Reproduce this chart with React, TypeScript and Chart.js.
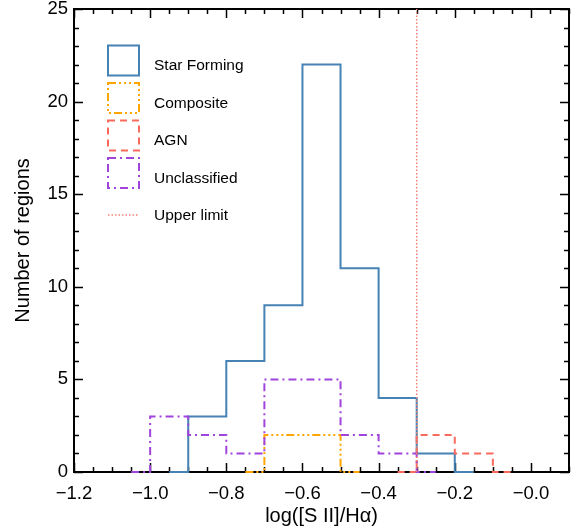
import { useEffect, useRef } from 'react';
import { Chart, registerables } from 'chart.js';

Chart.register(...registerables);

// Histogram bins of log([S II]/Hα), width 0.1
const binEdges = [-1.0, -0.9, -0.8, -0.7, -0.6, -0.5, -0.4, -0.3, -0.2, -0.1];
const starForming = [0, 3, 6, 9, 22, 11, 4, 1, 0];
const composite = [0, 0, 0, 2, 2, 0, 0, 0, 0];
const agn = [0, 0, 0, 0, 0, 0, 0, 2, 1];
const unclassified = [3, 2, 1, 5, 5, 2, 1, 0, 0];
const upperLimit = -0.3;

const xTickValues = [-1.2, -1.0, -0.8, -0.6, -0.4, -0.2, 0.0];
const xTickLabels = ['\u22121.2', '\u22121.0', '\u22120.8', '\u22120.6', '\u22120.4', '\u22120.2', '\u22120.0'];
const yTickValues = [0, 5, 10, 15, 20, 25];
const yTickLabels = ['0', '5', '10', '15', '20', '25'];

const X_MIN = -1.2;
const X_MAX = 0.1;
const Y_MIN = 0;
const Y_MAX = 25;
const HALF_BIN = 0.05;

const FONT = '"Liberation Sans", Arial, Helvetica, sans-serif';

const C_SF = '#4682B4';
const C_COMP = '#FFA500';
const C_AGN = '#FA6A5C';
const C_UNC = '#A044DC';
const C_LIMIT = '#F47F72';

const DASH_COMP = [8, 3, 2, 3, 2, 3, 2, 3];
const DASH_AGN = [7, 5];
const DASH_UNC = [8, 4, 2, 4];
const DASH_LIMIT = [1.5, 2];

// Step outline of a histogram, with half-bin zero tails at each end
function outline(counts: number[]) {
  const first = counts.findIndex((c) => c > 0);
  const last = counts.length - 1 - [...counts].reverse().findIndex((c) => c > 0);
  const pts: { x: number; y: number }[] = [
    { x: binEdges[first] - HALF_BIN, y: 0 },
    { x: binEdges[first], y: 0 },
  ];
  for (let i = first; i <= last; i++) {
    pts.push({ x: binEdges[i], y: counts[i] }, { x: binEdges[i + 1], y: counts[i] });
  }
  pts.push({ x: binEdges[last + 1], y: 0 }, { x: binEdges[last + 1] + HALF_BIN, y: 0 });
  return pts;
}

const legendItems = [
  { label: 'Star Forming', color: C_SF, dash: [] as number[], kind: 'box' },
  { label: 'Composite', color: C_COMP, dash: DASH_COMP, kind: 'box' },
  { label: 'AGN', color: C_AGN, dash: DASH_AGN, kind: 'box' },
  { label: 'Unclassified', color: C_UNC, dash: DASH_UNC, kind: 'box' },
  { label: 'Upper limit', color: C_LIMIT, dash: DASH_LIMIT, kind: 'line' },
];

// Box frame with inward major/minor ticks on all four sides
const framePlugin = {
  id: 'frame',
  beforeDatasetsDraw(chart: any) {
    const { ctx, chartArea: a, scales } = chart;
    const xs = scales.x;
    const ys = scales.y;
    ctx.save();
    ctx.strokeStyle = '#000';
    ctx.lineWidth = 1.5;
    ctx.beginPath();
    for (let k = 0; k <= 26; k++) {
      const v = X_MIN + k * 0.05;
      if (v > X_MAX + 1e-9) break;
      const px = Math.round(xs.getPixelForValue(v)) + 0.5;
      const major = k % 4 === 0;
      const len = major ? 9 : 5;
      ctx.moveTo(px, a.bottom);
      ctx.lineTo(px, a.bottom - len);
      ctx.moveTo(px, a.top);
      ctx.lineTo(px, a.top + len);
    }
    for (let v = Y_MIN; v <= Y_MAX; v++) {
      const py = Math.round(ys.getPixelForValue(v)) + 0.5;
      const major = v % 5 === 0;
      const len = major ? 9 : 5;
      ctx.moveTo(a.left, py);
      ctx.lineTo(a.left + len, py);
      ctx.moveTo(a.right, py);
      ctx.lineTo(a.right - len, py);
    }
    ctx.stroke();
    ctx.lineWidth = 2;
    ctx.strokeRect(a.left, a.top, a.right - a.left, a.bottom - a.top);
    ctx.restore();
  },
  afterDatasetsDraw(chart: any) {
    const { ctx, chartArea: a } = chart;
    ctx.save();
    const boxX = a.left + 34;
    const boxW = 31;
    const boxH = 30;
    const textX = a.left + 80;
    let cy = a.top + 56;
    ctx.font = `15.5px ${FONT}`;
    ctx.textBaseline = 'middle';
    ctx.textAlign = 'left';
    for (const it of legendItems) {
      ctx.strokeStyle = it.color;
      ctx.setLineDash(it.dash);
      if (it.kind === 'box') {
        ctx.lineWidth = 2;
        ctx.strokeRect(boxX, cy - 4.5 - boxH / 2, boxW, boxH);
      } else {
        ctx.lineWidth = 1.5;
        ctx.beginPath();
        ctx.moveTo(boxX, cy);
        ctx.lineTo(boxX + boxW, cy);
        ctx.stroke();
      }
      ctx.setLineDash([]);
      ctx.fillStyle = '#000';
      ctx.fillText(it.label, textX, cy + 1);
      cy += 37.5;
    }
    ctx.restore();
  },
};

export default function App() {
  const ref = useRef<HTMLCanvasElement>(null);

  useEffect(() => {
    const canvas = ref.current;
    if (!canvas) return;

    const histo = (label: string, counts: number[], color: string, dash: number[], order: number) => ({
      label,
      data: outline(counts),
      borderColor: color,
      borderWidth: 2,
      borderDash: dash,
      pointRadius: 0,
      fill: false,
      tension: 0,
      clip: false as any,
      order,
    });

    const chart = new Chart(canvas, {
      type: 'line',
      data: {
        datasets: [
          {
            label: 'Upper limit',
            data: [
              { x: upperLimit, y: Y_MIN },
              { x: upperLimit, y: Y_MAX },
            ],
            borderColor: C_LIMIT,
            borderWidth: 1.5,
            borderDash: DASH_LIMIT,
            pointRadius: 0,
            fill: false,
            order: 0,
          },
          histo('Unclassified', unclassified, C_UNC, DASH_UNC, 1),
          histo('AGN', agn, C_AGN, DASH_AGN, 2),
          histo('Composite', composite, C_COMP, DASH_COMP, 3),
          histo('Star Forming', starForming, C_SF, [], 4),
        ] as any,
      },
      options: {
        animation: false,
        responsive: true,
        maintainAspectRatio: false,
        layout: { padding: { top: 9, right: 10, left: 0, bottom: 0 } },
        plugins: {
          legend: { display: false },
          tooltip: { enabled: false },
        },
        scales: {
          x: {
            type: 'linear',
            min: X_MIN,
            max: X_MAX,
            grid: { display: false, drawTicks: false },
            border: { display: false },
            afterBuildTicks: (s: any) => {
              s.ticks = xTickValues.map((v) => ({ value: v }));
            },
            afterFit: (s: any) => {
              s.height = 59;
              s.paddingLeft = 0;
              s.paddingRight = 0;
            },
            ticks: {
              autoSkip: false,
              maxRotation: 0,
              padding: 11,
              color: '#000',
              font: { family: FONT, size: 18.5 },
              callback: (v: any) => {
                const i = xTickValues.findIndex((t) => Math.abs(t - Number(v)) < 1e-6);
                return i >= 0 ? xTickLabels[i] : '';
              },
            },
            title: {
              display: true,
              text: 'log([S II]/H\u03B1)',
              color: '#000',
              font: { family: FONT, size: 20 },
              padding: { top: 0, bottom: 3 },
            },
          },
          y: {
            type: 'linear',
            min: Y_MIN,
            max: Y_MAX,
            grid: { display: false, drawTicks: false },
            border: { display: false },
            afterBuildTicks: (s: any) => {
              s.ticks = yTickValues.map((v) => ({ value: v }));
            },
            afterFit: (s: any) => {
              s.width = 74;
              s.paddingTop = 0;
              s.paddingBottom = 0;
            },
            ticks: {
              autoSkip: false,
              padding: 6,
              color: '#000',
              font: { family: FONT, size: 18.5 },
              callback: (v: any) => {
                const i = yTickValues.indexOf(Number(v));
                return i >= 0 ? yTickLabels[i] : '';
              },
            },
            title: {
              display: true,
              text: 'Number of regions',
              color: '#000',
              font: { family: FONT, size: 20 },
              padding: { top: 11, bottom: 0 },
            },
          },
        },
      },
      plugins: [framePlugin],
    });

    return () => chart.destroy();
  }, []);

  return (
    <div style={{ position: 'absolute', left: 0, top: 0, width: 579, height: 531, background: '#fff' }}>
      <canvas ref={ref} />
    </div>
  );
}
